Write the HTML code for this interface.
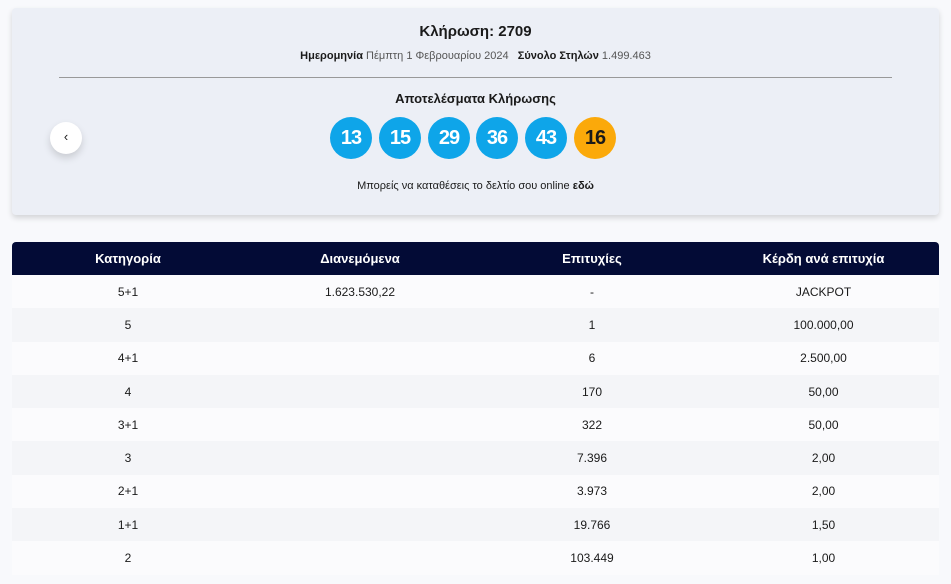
<!DOCTYPE html>
<html><head><meta charset="utf-8"><style>
body{margin:0;width:951px;height:584px;background:#f8f9fc;font-family:"Liberation Sans",sans-serif;color:#1a1a1a;position:relative;overflow:hidden}
.card{position:absolute;left:12px;top:8px;width:927px;height:207px;background:#eceff6;border-radius:4px;box-shadow:0 3px 6px rgba(0,0,0,.15)}
.t{position:absolute;left:0;width:100%;text-align:center}
.ball{position:absolute;top:109px;width:42px;height:42px;border-radius:50%;background:#0ea5e9;color:#fff;font-size:20px;font-weight:bold;text-align:center;line-height:42px;letter-spacing:-1px}
.nav{position:absolute;left:38px;top:114px;width:32px;height:32px;border-radius:50%;background:#fff;box-shadow:0 4px 8px rgba(0,0,0,.15);text-align:center;line-height:30px;font-size:13px}
table{position:absolute;left:12px;top:242px;width:927px;border-collapse:collapse;font-size:12px}
th{background:#030b36;color:#fff;height:33px;padding:0;font-size:13px;font-weight:bold}
th:first-child{border-top-left-radius:4px}th:last-child{border-top-right-radius:4px}
td{height:33.3px;text-align:center;padding:0}
tr:nth-child(odd) td{background:#f4f5f8}tr:nth-child(even) td{background:#fbfbfd}
</style></head><body>
<div class="card">
<div class="t" style="top:15px;font-size:15px;font-weight:bold">Κλήρωση: 2709</div>
<div class="t" style="top:42px;font-size:11px"><b>Ημερομηνία</b> <span style="color:#555">Πέμπτη 1 Φεβρουαρίου 2024</span> &nbsp; <b>Σύνολο Στηλών</b> <span style="color:#555">1.499.463</span></div>
<div style="position:absolute;left:47px;top:69px;width:833px;height:1px;background:#999"></div>
<div class="t" style="top:83px;font-size:13px;font-weight:bold">Αποτελέσματα Κλήρωσης</div>
<div class="t" style="top:172px;font-size:11px">Μπορείς να καταθέσεις το δελτίο σου online <b>εδώ</b></div>
<div class="nav">‹</div>
<div class="ball" style="left:318px">13</div>
<div class="ball" style="left:367px">15</div>
<div class="ball" style="left:416px">29</div>
<div class="ball" style="left:464px">36</div>
<div class="ball" style="left:513px">43</div>
<div class="ball" style="left:562px;background:#fba90a;color:#1a1a1a">16</div>
</div>
<table>
<tr><th style="width:232px">Κατηγορία</th><th style="width:232px">Διανεμόμενα</th><th style="width:232px">Επιτυχίες</th><th>Κέρδη ανά επιτυχία</th></tr>
<tr><td>5+1</td><td>1.623.530,22</td><td>-</td><td>JACKPOT</td></tr>
<tr><td>5</td><td></td><td>1</td><td>100.000,00</td></tr>
<tr><td>4+1</td><td></td><td>6</td><td>2.500,00</td></tr>
<tr><td>4</td><td></td><td>170</td><td>50,00</td></tr>
<tr><td>3+1</td><td></td><td>322</td><td>50,00</td></tr>
<tr><td>3</td><td></td><td>7.396</td><td>2,00</td></tr>
<tr><td>2+1</td><td></td><td>3.973</td><td>2,00</td></tr>
<tr><td>1+1</td><td></td><td>19.766</td><td>1,50</td></tr>
<tr><td>2</td><td></td><td>103.449</td><td>1,00</td></tr>
</table>
</body></html>
